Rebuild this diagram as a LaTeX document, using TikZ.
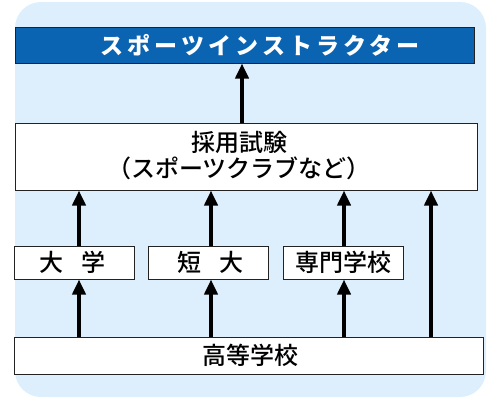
\documentclass[tikz,border=0pt]{standalone}
\usepackage{fontspec}
\IfFontExistsTF{Noto Sans CJK JP Medium}
  {\newfontfamily\jp{Noto Sans CJK JP Medium}}
  {\newfontfamily\jp{Noto Sans CJK JP}[FakeBold=0.6]}
\IfFontExistsTF{Noto Sans CJK JP Black}
  {\newfontfamily\jpbold{Noto Sans CJK JP Black}[LetterSpace=18]}
  {\IfFontExistsTF{Noto Sans CJK JP Bold}
    {\newfontfamily\jpbold{Noto Sans CJK JP Bold}[LetterSpace=18]}
    {\newfontfamily\jpbold{Noto Sans CJK JP}[FakeBold=3,LetterSpace=18]}}
\usetikzlibrary{arrows.meta,calc}
\definecolor{bgblue}{HTML}{DDEFFC}
\definecolor{titleblue}{HTML}{0A64B2}
\definecolor{boxline}{HTML}{222222}
\tikzset{
  box/.style={draw=boxline,line width=1pt,fill=white,inner sep=0pt,anchor=center},
  smallbox/.style={box,minimum width=120pt,minimum height=33pt},
  lbl/.style={font=\jp\fontsize{24}{26}\selectfont,inner sep=0pt,align=center},
  arr/.style={line width=4pt,-{Triangle[width=13pt,length=15pt]}}
}
\begin{document}
\begin{tikzpicture}[x=1pt,y=-1pt]
\useasboundingbox (0,0) rectangle (500,400);
\fill[bgblue,rounded corners=26pt] (15,2) rectangle (486,397);
% boxes
\node[box,fill=titleblue,minimum width=459pt,minimum height=36pt] (title) at (244.5,45) {};
\node[box,minimum width=462pt,minimum height=67pt] (saiyo) at (246,156.5) {};
\node[smallbox] (daigaku) at (74,262.5) {};
\node[smallbox] (tandai) at (208,262.5) {};
\node[smallbox] (senmon) at (343,262.5) {};
\node[box,minimum width=469pt,minimum height=37pt] (koko) at (248.5,355.5) {};
% labels
\node[inner sep=0pt,text=white,font=\jpbold\fontsize{23}{25}\selectfont] (titlet) at (260,45) {スポーツインストラクター};
\node[lbl] (saiyot) at (239,155.5) {採用試験\\（スポーツクラブなど）};
\node[lbl] (daigakut) at (72.5,262.5) {大\hspace{18pt}学};
\node[lbl] (tandait) at (210,262.5) {短\hspace{18pt}大};
\node[lbl] (senmont) at (343.5,262.5) {専門学校};
\node[lbl] (kokot) at (250,355.5) {高等学校};
% arrow positions
\coordinate (c0) at (242,0);
\coordinate (c1) at (79,0);
\coordinate (c2) at (211,0);
\coordinate (c3) at (344,0);
\coordinate (c4) at (431,0);
% arrows
\draw[arr] (saiyo.north -| c0) -- (title.south -| c0);
\draw[arr] (daigaku.north -| c1) -- (saiyo.south -| c1);
\draw[arr] (tandai.north -| c2) -- (saiyo.south -| c2);
\draw[arr] (senmon.north -| c3) -- (saiyo.south -| c3);
\draw[arr] (koko.north -| c4) -- (saiyo.south -| c4);
\draw[arr] (koko.north -| c1) -- (daigaku.south -| c1);
\draw[arr] (koko.north -| c2) -- (tandai.south -| c2);
\draw[arr] (koko.north -| c3) -- (senmon.south -| c3);
\end{tikzpicture}
\end{document}
